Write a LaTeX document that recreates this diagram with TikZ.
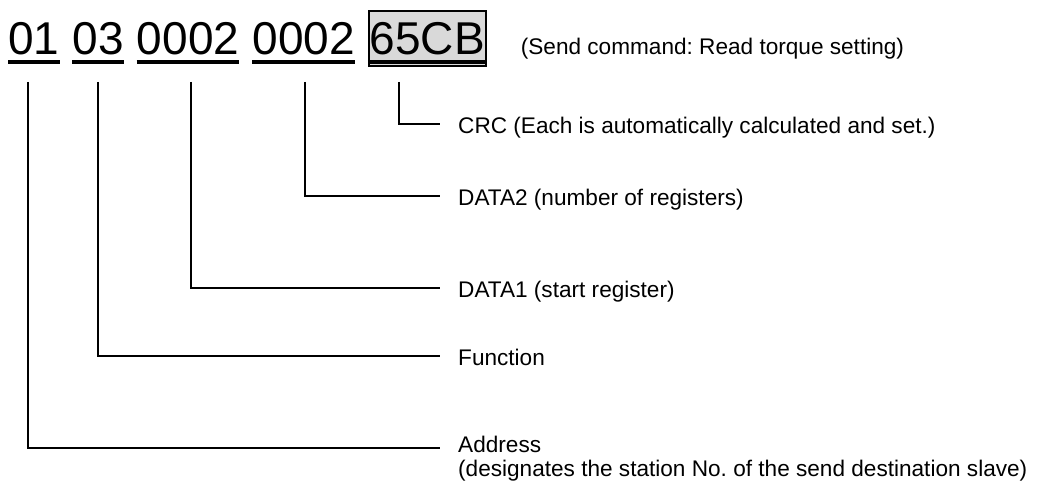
\documentclass[tikz,border=0pt]{standalone}
\usepackage{fontspec}
\setmainfont{Liberation Sans}
\frenchspacing
\usetikzlibrary{positioning}
\definecolor{boxgray}{RGB}{217,217,217}

\begin{document}
\begin{tikzpicture}[
  x=1pt, y=-1pt,
  field/.style={inner sep=0pt, font=\fontsize{46}{50}\selectfont},
  crcbox/.style={field, draw, line width=1.8pt, fill=boxgray, inner xsep=1pt, text height=44pt, text depth=11pt},
  label/.style={inner sep=0pt, anchor=base west, font=\fontsize{22.6}{26}\selectfont},
  uline/.style={line width=3.2pt},
  lead/.style={line width=1.6pt},
  node distance=12.8pt
]
  \useasboundingbox (0,0) rectangle (1037,486);

  \node[field, anchor=base west] (addr) at (8,55) {01};
  \node[field, base right=of addr] (func) {03};
  \node[field, base right=of func] (data1) {0002};
  \node[field, base right=of data1] (data2) {0002};
  \node[crcbox, base right=of data2] (crc) {65CB};
  \node[label, base right=34pt of crc] (note) {(Send command: Read torque setting)};

  \foreach \f in {addr,func,data1,data2,crc}
    \draw[uline] ([yshift=-7pt]\f.base west) -- ([yshift=-7pt]\f.base east);

  \node[label] (lcrc) at (458,134) {CRC (Each is automatically calculated and set.)};
  \node[label] (ldata2) at (458,206) {DATA2 (number of registers)};
  \node[label] (ldata1) at (458,298) {DATA1 (start register)};
  \node[label] (lfunc) at (458,366) {Function};
  \node[label] (laddr) at (458,453) {Address};
  \node[label] (laddr2) at (458,476) {(designates the station No. of the send destination slave)};

  \draw[lead] ([shift={(31pt,-27pt)}]crc.base west) |- ([shift={(-18pt,10pt)}]lcrc.base west);
  \draw[lead] ([shift={(53pt,-27pt)}]data2.base west) |- ([shift={(-18pt,10pt)}]ldata2.base west);
  \draw[lead] ([shift={(54pt,-27pt)}]data1.base west) |- ([shift={(-18pt,10pt)}]ldata1.base west);
  \draw[lead] ([shift={(25.6pt,-27pt)}]func.base west) |- ([shift={(-18pt,10pt)}]lfunc.base west);
  \draw[lead] ([shift={(20pt,-27pt)}]addr.base west) |- ([shift={(-18pt,5pt)}]laddr.base west);
\end{tikzpicture}
\end{document}
